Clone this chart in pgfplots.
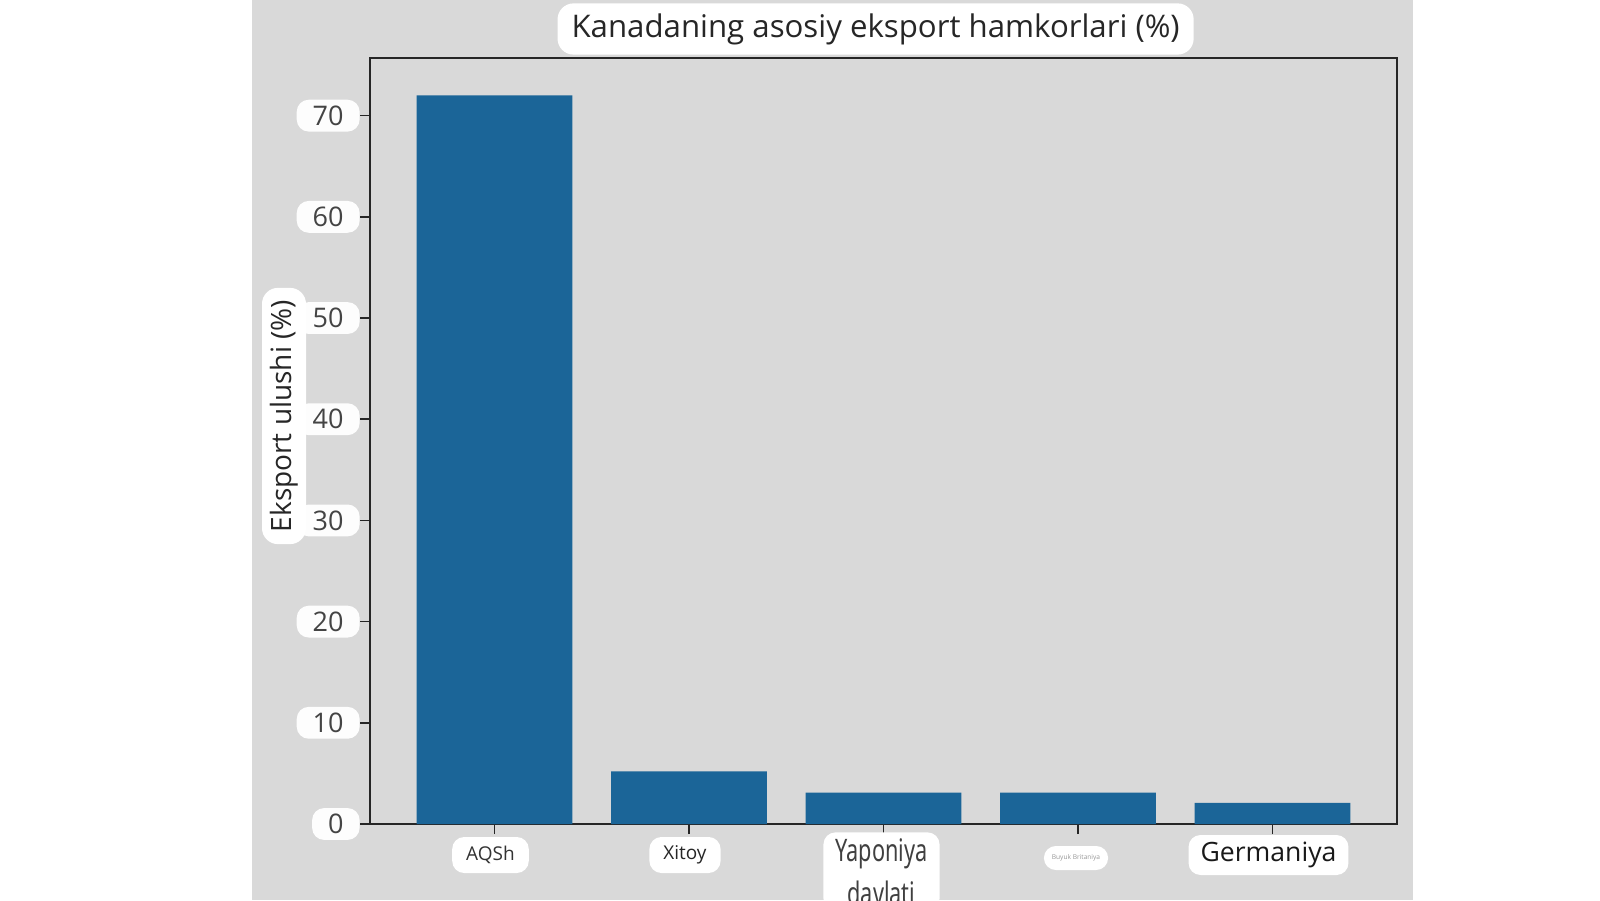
\documentclass[border=0pt]{standalone}
\usepackage{fontspec}
\setmainfont{Open Sans}
\newfontfamily\condfont[FakeStretch=0.70]{Noto Sans}
\usepackage{pgfplots}
\pgfplotsset{compat=1.18}
\definecolor{panel}{RGB}{217,217,217}
\definecolor{barblue}{RGB}{27,101,152}
\definecolor{ticktext}{RGB}{68,68,68}

\begin{document}
\begin{tikzpicture}[x=1pt,y=1pt]
\path[use as bounding box] (0,0) rectangle (800,450);
\fill[white] (0,0) rectangle (800,450);
\fill[panel] (126,0) rectangle (706.5,450);
\begin{axis}[
    at={(185pt,38pt)}, anchor=south west,
    width=513.5pt, height=383pt, scale only axis,
    axis background/.style={fill=panel},
    xmin=-0.64, xmax=4.64,
    ymin=0, ymax=75.7,
    xtick={0,1,2,3,4}, xticklabels={},
    ytick={0,10,...,70},
    tick align=outside, tick pos=left,
    major tick length=5pt,
    axis line style={line width=1pt, black!85},
    every tick/.style={black!85, line width=0.8pt},
    /pgf/number format/assume math mode=true,
    yticklabel style={font=\fontsize{13.5}{15}\selectfont, text=ticktext,
        fill=white!94!panel, rounded corners=6pt, inner xsep=8pt, inner ysep=3pt},
    clip=false,
]
\addplot[ybar, bar width=0.8, fill=barblue, draw=none] coordinates {
    (0, 72.0)
    (1, 5.2)
    (2, 3.1)
    (3, 3.1)
    (4, 2.1)
};
% category labels
\node[fill=white, rounded corners=6pt, inner xsep=7pt, minimum height=18pt,
      text=black!80, font=\fontsize{9.5}{11}\selectfont]
    at ([xshift=-2pt, yshift=-15.5pt]axis cs:0,0) {AQSh};
\node[fill=white, rounded corners=6pt, inner xsep=7pt, minimum height=18pt,
      text=black!85, font=\fontsize{9.5}{11}\selectfont]
    at ([xshift=-2pt, yshift=-15.5pt]axis cs:1,0) {Xitoy};
\node[fill=white, rounded corners=6pt, inner xsep=6pt, inner ysep=3pt, anchor=north,
      align=center, text=black!75, font=\condfont\fontsize{15.5}{21.5}\selectfont]
    at ([xshift=-1pt, yshift=-4pt]axis cs:2,0) {Yaponiya\\davlati};
\node[fill=white, rounded corners=6pt, inner xsep=4pt, minimum height=12pt,
      text=black!40, font=\fontsize{3.3}{4}\selectfont]
    at ([xshift=-1pt, yshift=-17pt]axis cs:3,0) {Buyuk Britaniya};
\node[fill=white, rounded corners=6pt, inner xsep=6pt, minimum height=20pt,
      text=black!90, font=\fontsize{13.3}{15}\selectfont]
    at ([xshift=-2pt, yshift=-15.5pt]axis cs:4,0) {Germaniya};
\end{axis}
\node[fill=white, rounded corners=8pt, inner xsep=7pt, inner ysep=5pt,
      text=black!85, font=\fontsize{15.6}{18}\selectfont]
    at (437.8,435.5) {Kanadaning asosiy eksport hamkorlari (\%)};
\node[rotate=90, fill=white, rounded corners=8pt, inner xsep=6pt, inner ysep=4pt,
      text=black!85, font=\fontsize{14}{16}\selectfont]
    at (142,242) {Eksport ulushi (\%)};
\end{tikzpicture}
\end{document}
